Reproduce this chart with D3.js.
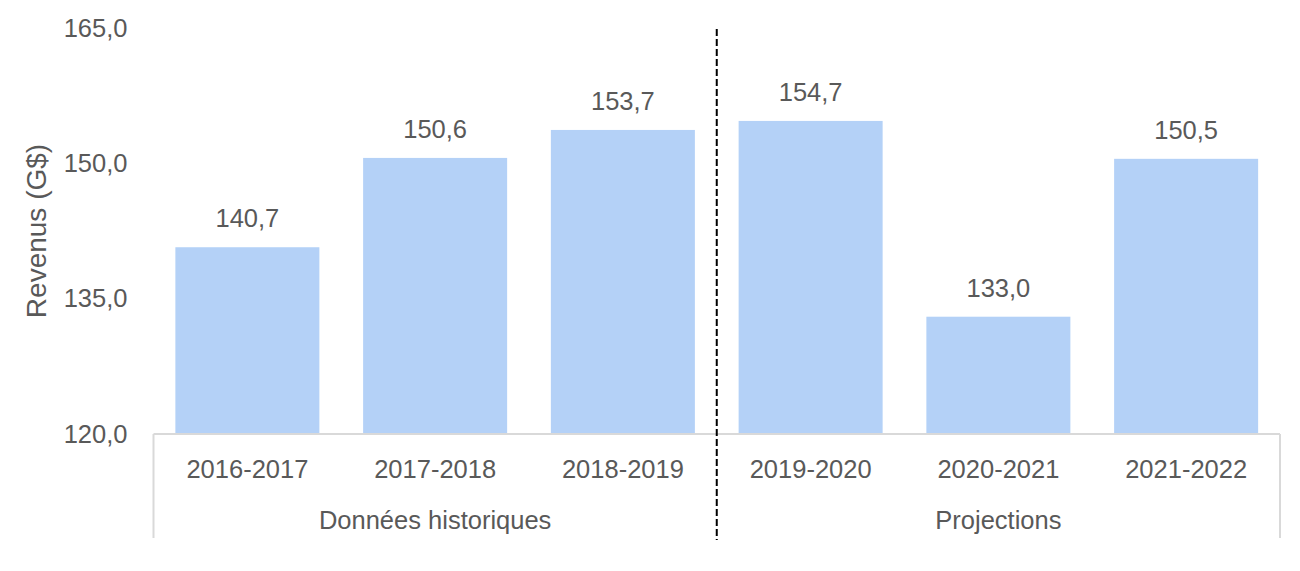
<!DOCTYPE html>
<html>
<head>
<meta charset="utf-8">
<script src="https://cdn.jsdelivr.net/npm/d3@7"></script>
<style>
html,body{margin:0;padding:0;background:#fff;}
svg text{font-family:"Liberation Sans",Arial,sans-serif;fill:#595959;}
</style>
</head>
<body>
<svg id="chart" width="1300" height="571"></svg>
<script>
const categories = ["2016-2017","2017-2018","2018-2019","2019-2020","2020-2021","2021-2022"];
const values = [140.7, 150.6, 153.7, 154.7, 133.0, 150.5];
const groups = ["Données historiques","Projections"];
const groupOf = [0,0,0,1,1,1];
const yTicks = [120, 135, 150, 165];
const yTitle = "Revenus (G$)";

(function(){
const svg = d3.select("#chart");
const mLeft = 153.5, mRight = 1280, mTop = 28, mBottom = 434;
const fmt = v => d3.format(".1f")(v).replace(".", ",");

const x = d3.scaleBand().domain(categories).range([mLeft, mRight]).paddingInner(0.233).paddingOuter(0.1165);
const y = d3.scaleLinear().domain([120, 165]).range([mBottom, mTop]);

// bars
svg.selectAll("rect.bar").data(values).join("rect")
  .attr("class","bar")
  .attr("x",(d,i)=>x(categories[i]))
  .attr("width",x.bandwidth())
  .attr("y",d=>y(d))
  .attr("height",d=>y(120)-y(d))
  .attr("fill","#b4d1f7");

// value labels
svg.selectAll("text.val").data(values).join("text")
  .attr("class","val")
  .attr("x",(d,i)=>x(categories[i])+x.bandwidth()/2)
  .attr("y",d=>y(d)-20)
  .attr("text-anchor","middle")
  .style("font-size","25.5px")
  .text(d=>fmt(d));

// y axis labels
const yAxis = d3.axisLeft(y).tickValues(yTicks).tickFormat(fmt).tickSize(0).tickPadding(26);
const yg = svg.append("g").attr("transform",`translate(${mLeft},0)`).call(yAxis);
yg.select(".domain").remove();
yg.selectAll("text").style("font-size","25.5px").style("font-family","'Liberation Sans',Arial,sans-serif").attr("fill","#595959");

// y title
svg.append("text")
  .attr("transform",`translate(46,${(mTop+mBottom)/2}) rotate(-90)`)
  .attr("text-anchor","middle")
  .style("font-size","28px")
  .text(yTitle);

// x axis frame
const frame = svg.append("g").attr("stroke","#d9d9d9").attr("stroke-width",2).attr("fill","none");
frame.append("line").attr("x1",mLeft).attr("x2",mRight).attr("y1",mBottom).attr("y2",mBottom);
frame.append("line").attr("x1",mLeft).attr("x2",mLeft).attr("y1",mBottom).attr("y2",538);
frame.append("line").attr("x1",mRight).attr("x2",mRight).attr("y1",mBottom).attr("y2",538);

// category labels
const xAxis = d3.axisBottom(x).tickSize(0).tickPadding(0);
const xg = svg.append("g").attr("transform",`translate(0,${mBottom})`).call(xAxis);
xg.select(".domain").remove();
xg.selectAll("text").attr("dy",null).attr("y",44).style("font-size","25.5px")
  .style("font-family","'Liberation Sans',Arial,sans-serif").attr("fill","#595959");

// group labels
groups.forEach((g,gi)=>{
  const idx = categories.filter((c,i)=>groupOf[i]===gi);
  const x0 = x(idx[0]) - x.step()*x.paddingInner()/2;
  const x1 = x(idx[idx.length-1]) + x.bandwidth() + x.step()*x.paddingInner()/2;
  svg.append("text")
    .attr("x",(Math.max(x0,mLeft)+Math.min(x1,mRight))/2)
    .attr("y",529)
    .attr("text-anchor","middle")
    .style("font-size","25.5px")
    .text(g);
});

// divider dashed line
const divX = x(categories[3]) - x.step()*x.paddingInner()/2;
svg.append("line")
  .attr("x1",divX).attr("x2",divX).attr("y1",29).attr("y2",540)
  .attr("stroke","#000").attr("stroke-width",2).attr("stroke-dasharray","7,3");
})();
</script>
</body>
</html>
